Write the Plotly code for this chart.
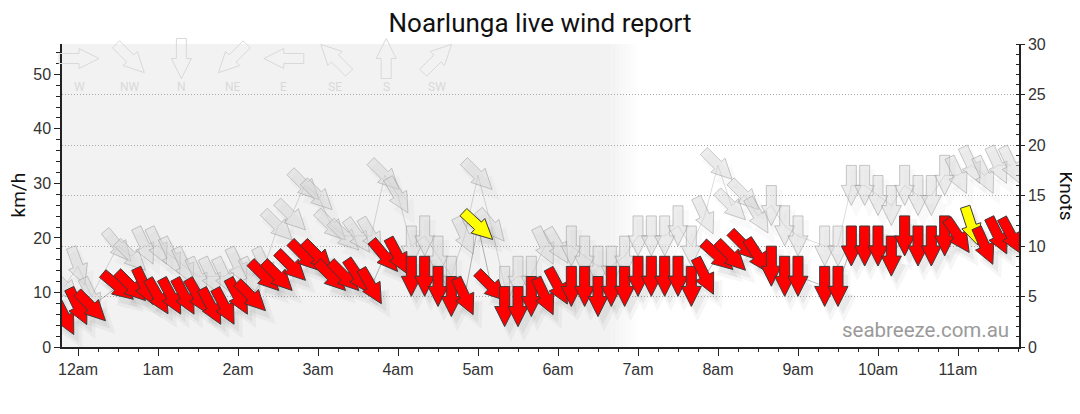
import math
import plotly.graph_objects as go

# ---------------- data ----------------
times = ["23:50", "00:00", "00:10", "00:30", "00:40", "00:50", "01:00", "01:10", "01:20", "01:30",
         "01:40", "01:50", "02:00", "02:10", "02:20", "02:30", "02:40", "02:50", "03:00", "03:10",
         "03:20", "03:30", "03:40", "03:50", "04:00", "04:10", "04:20", "04:30", "04:40", "04:50",
         "05:00", "05:10", "05:20", "05:30", "05:40", "05:50", "06:00", "06:10", "06:20", "06:30",
         "06:40", "06:50", "07:00", "07:10", "07:20", "07:30", "07:40", "07:50", "08:00", "08:10",
         "08:20", "08:30", "08:40", "08:50", "09:00", "09:20", "09:30", "09:40", "09:50", "10:00",
         "10:10", "10:20", "10:30", "10:40", "10:50", "11:00", "11:10", "11:20", "11:30", "11:40"]

# average wind speed (knots)
avg_kn = [3, 4, 4, 6, 6, 6, 5, 5, 5, 5,
          4, 4, 5, 5, 7, 7, 8, 9, 9, 7,
          7, 7, 6, 9, 9, 7, 7, 6, 5, 5,
          12, 6, 4, 4, 5, 5, 6, 6, 6, 5,
          6, 6, 7, 7, 7, 7, 6, 7, 9, 9,
          10, 9, 8, 7, 7, 6, 6, 10, 10, 10,
          9, 11, 10, 10, 11, 11, 12, 10, 11, 11]

# average wind direction (degrees, direction the wind comes from)
avg_dir = [333, 334, 315, 310, 315, 335, 330, 332, 332, 330,
           332, 332, 332, 315, 315, 315, 315, 315, 315, 315,
           315, 326, 330, 320, 332, 0, 0, 0, 0, 335,
           313, 315, 0, 0, 0, 335, 332, 0, 0, 0,
           0, 0, 0, 0, 0, 0, 0, 334, 312, 315,
           315, 327, 0, 0, 0, 0, 0, 0, 0, 0,
           0, 0, 0, 0, 0, 326, 342, 336, 334, 332]

# gust speed (knots)
gust_kn = [6, 8, 5, 10, 9, 10, 10, 9, 8, 7,
           7, 7, 8, 7, 8, 12, 13, 16, 15, 12,
           11, 11, 11, 17, 15, 10, 11, 9, 7, 11,
           17, 12, 6, 7, 7, 10, 10, 10, 9, 8,
           8, 9, 11, 11, 11, 12, 10, 13, 18, 14,
           15, 13, 14, 12, 11, 10, 10, 16, 16, 15,
           14, 16, 15, 15, 17, 17, 18, 17, 18, 18]

# gust direction (degrees)
gust_dir = [315, 340, 335, 320, 315, 335, 335, 335, 335, 335,
            335, 335, 335, 335, 335, 315, 315, 315, 315, 315,
            315, 325, 330, 315, 330, 0, 0, 0, 0, 335,
            315, 320, 0, 0, 0, 335, 330, 0, 0, 0,
            0, 0, 0, 0, 0, 0, 0, 335, 315, 315,
            315, 330, 0, 0, 0, 0, 0, 0, 0, 0,
            0, 0, 0, 0, 0, 335, 335, 335, 335, 335]

flagged_times = ["05:00", "11:10"]          # readings drawn in yellow

hour_ticks = [0, 60, 120, 180, 240, 300, 360, 420, 480, 540, 600, 660]
hour_labels = ["12am", "1am", "2am", "3am", "4am", "5am", "6am", "7am", "8am", "9am", "10am", "11am"]

compass_labels = ["W", "NW", "N", "NE", "E", "SE", "S", "SW"]
compass_dirs = [270, 315, 0, 45, 90, 135, 180, 225]

KMH_PER_KNOT = 1.852
X_RANGE = [-12, 705.75]
NIGHT_END = 400      # minutes: shading solid until 6:40am, fading out by 7:00am
FADE_LEN = 20

# ---------------- helpers ----------------
def to_min(s):
    h, m = map(int, s.split(":"))
    v = h * 60 + m
    return v - 1440 if v > 720 else v

tmins = [to_min(t) for t in times]

ARROW = [(-5, -20), (5, -20), (5, 0), (10, 0), (0, 20), (-10, 0), (-5, 0)]  # screen coords, pointing down


def arrow_path(direction, scale=1.0, dx=0.0, dy=0.0):
    th = math.radians(direction)
    c, s = math.cos(th), math.sin(th)
    pts = []
    for x, y in ARROW:
        xr = (x * c - y * s) * scale + dx
        yr = (x * s + y * c) * scale
        pts.append((xr, -yr + dy))   # pixel-mode y is measured upward
    return "M " + " L ".join(f"{px:.2f},{py:.2f}" for px, py in pts) + " Z"


def arrow_shape(xa, ya, path, fill, line_color, line_width, xref="x", yref="y2"):
    return dict(type="path", xref=xref, yref=yref, xsizemode="pixel", ysizemode="pixel",
                xanchor=xa, yanchor=ya, path=path, fillcolor=fill,
                line=dict(color=line_color, width=line_width), layer="above")


shapes = []

# night shading with a soft fade
shapes.append(dict(type="rect", xref="x", yref="paper", x0=X_RANGE[0], x1=NIGHT_END, y0=0, y1=1,
                   fillcolor="rgb(242,242,242)", line=dict(width=0), layer="below"))
steps = 10
for i in range(steps):
    a = 1 - (i + 0.5) / steps
    shapes.append(dict(type="rect", xref="x", yref="paper",
                       x0=NIGHT_END + FADE_LEN * i / steps, x1=NIGHT_END + FADE_LEN * (i + 1) / steps,
                       y0=0, y1=1, fillcolor=f"rgba(242,242,242,{a:.2f})", line=dict(width=0), layer="below"))

# gust arrows (grey) with faint shadows
for t, v, d in zip(tmins, gust_kn, gust_dir):
    shapes.append(arrow_shape(t, v, arrow_path(d, 1.2, 5, -8), "rgba(0,0,0,0.025)", "rgba(0,0,0,0)", 0))
for t, v, d in zip(tmins, gust_kn, gust_dir):
    shapes.append(arrow_shape(t, v, arrow_path(d), "rgba(215,215,215,0.45)", "rgba(150,150,150,0.5)", 1))

# average arrows (red / yellow) with shadows
for t, v, d in zip(tmins, avg_kn, avg_dir):
    shapes.append(arrow_shape(t, v, arrow_path(d, 1.3, 6, -9), "rgba(0,0,0,0.035)", "rgba(0,0,0,0)", 0))
    shapes.append(arrow_shape(t, v, arrow_path(d, 1.0, 5, -8), "rgba(0,0,0,0.05)", "rgba(0,0,0,0)", 0))
for s, t, v, d in zip(times, tmins, avg_kn, avg_dir):
    fill = "#ffff00" if s in flagged_times else "#ff0000"
    shapes.append(arrow_shape(t, v, arrow_path(d), fill, "#3a3a3a", 1))

# page geometry (the page has an 8px body margin)
PAGE_OFF = 8
plot_l, plot_w, plot_b, plot_h = 62, 957, 347, 303   # plot area in window pixels
FIG_W, FIG_H = 1080, 414
m_l = plot_l - PAGE_OFF
m_t = (plot_b - plot_h) - PAGE_OFF
m_r = FIG_W - m_l - plot_w
m_b = FIG_H - m_t - plot_h

# compass key (decoration at the top-left)
annotations = []
for i, (lab, d) in enumerate(zip(compass_labels, compass_dirs)):
    px = (79 + 51.2 * i - plot_l) / plot_w
    shapes.append(arrow_shape(px, (plot_b - 58.5) / plot_h, arrow_path(d), "rgba(0,0,0,0)", "#d9d9d9", 1,
                              xref="paper", yref="paper"))
    annotations.append(dict(x=px, y=(plot_b - 87) / plot_h, xref="paper", yref="paper", text=lab,
                            showarrow=False, font=dict(family="Roboto", size=12, color="#d9d9d9"),
                            xanchor="center", yanchor="middle"))

annotations += [
    dict(x=(18 - plot_l) / plot_w, y=0.5, xref="paper", yref="paper", text="km/h", textangle=-90,
         showarrow=False, font=dict(family="Roboto", size=19, color="#111"), xanchor="center", yanchor="middle"),
    dict(x=(1066 - plot_l) / plot_w, y=0.5, xref="paper", yref="paper", text="Knots", textangle=90,
         showarrow=False, font=dict(family="Roboto", size=19, color="#111"), xanchor="center", yanchor="middle"),
    dict(x=(925 - plot_l) / plot_w, y=(plot_b - 330) / plot_h, xref="paper", yref="paper",
         text="seabreeze.com.au", showarrow=False,
         font=dict(family="Roboto", size=20.5, color="#9a9a9a"), xanchor="center", yanchor="middle"),
]

minor_x = [m for m in range(-15, 720, 15) if X_RANGE[0] <= m <= X_RANGE[1] and m % 60 != 0]

fig = go.Figure()
fig.add_trace(go.Scatter(x=tmins, y=gust_kn, yaxis="y2", mode="lines",
                         line=dict(color="rgba(0,0,0,0.14)", width=1), hoverinfo="skip", showlegend=False))
fig.add_trace(go.Scatter(x=tmins, y=avg_kn, yaxis="y2", mode="lines",
                         line=dict(color="rgba(0,0,0,0.35)", width=0.8), hoverinfo="skip", showlegend=False))
fig.add_trace(go.Scatter(x=tmins, y=[v * KMH_PER_KNOT for v in avg_kn], yaxis="y", mode="markers",
                         marker=dict(opacity=0), hoverinfo="skip", showlegend=False))

tick_font = dict(family="Liberation Sans, Arial", size=16, color="#333")
fig.update_layout(
    width=FIG_W, height=FIG_H,
    margin=dict(l=m_l, r=m_r, t=m_t, b=m_b),
    paper_bgcolor="white", plot_bgcolor="white",
    title=dict(text="Noarlunga live wind report", x=(540 - PAGE_OFF) / FIG_W, xanchor="center",
               y=1 - (23 - PAGE_OFF) / FIG_H, yanchor="middle", yref="container",
               font=dict(family="Roboto", size=26, color="#111")),
    xaxis=dict(range=X_RANGE, tickmode="array", tickvals=hour_ticks, ticktext=hour_labels,
               ticks="outside", ticklen=7, tickcolor="#222", showline=True, linecolor="#222", linewidth=1.5,
               showgrid=False, zeroline=False, tickfont=tick_font,
               minor=dict(tickmode="array", tickvals=minor_x, ticks="outside", ticklen=3, tickcolor="#222",
                          showgrid=False)),
    yaxis=dict(range=[0, 30 * KMH_PER_KNOT], tick0=0, dtick=10, ticks="outside", ticklen=6, tickcolor="#222",
               showline=True, linecolor="#222", linewidth=1.5, showgrid=False, zeroline=False,
               tickfont=tick_font,
               minor=dict(dtick=2, ticks="outside", ticklen=4, tickcolor="#222", showgrid=False)),
    yaxis2=dict(range=[0, 30], tick0=0, dtick=5, overlaying="y", side="right", ticks="outside", ticklen=4,
                tickcolor="#222", showline=True, linecolor="#222", linewidth=1.5, showgrid=True,
                gridcolor="#a8a8a8", griddash="1px,2px", gridwidth=1, zeroline=False, tickfont=tick_font,
                minor=dict(dtick=1, ticks="inside", ticklen=3, tickcolor="#222", showgrid=False)),
    shapes=shapes,
    annotations=annotations,
    showlegend=False,
)

fig.write_html("out.html")
